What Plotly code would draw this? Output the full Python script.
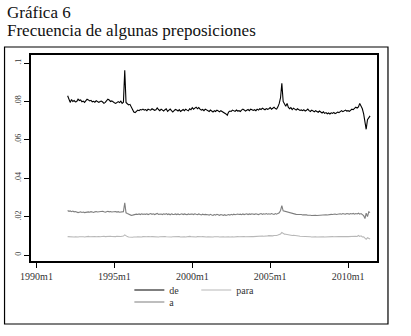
import plotly.graph_objects as go
import pandas as pd

# Monthly series, 1992m1 .. 2011m6
de = [
    0.0830, 0.0805, 0.0795, 0.0810, 0.0800, 0.0805, 0.0798, 0.0800, 0.0812, 0.0805, 0.0808, 0.0798,  # 1992
    0.0802, 0.0795, 0.0805, 0.0812, 0.0808, 0.0803, 0.0806, 0.0798, 0.0801, 0.0796, 0.0804, 0.0800,  # 1993
    0.0795, 0.0800, 0.0802, 0.0797, 0.0790, 0.0795, 0.0805, 0.0812, 0.0808, 0.0800, 0.0803, 0.0797,  # 1994
    0.0793, 0.0790, 0.0796, 0.0799, 0.0794, 0.0802, 0.0790, 0.0796, 0.0962, 0.0795, 0.0788, 0.0782,  # 1995
    0.0785, 0.0770, 0.0755, 0.0745, 0.0742, 0.0748, 0.0755, 0.0752, 0.0758, 0.0756, 0.0760, 0.0755,  # 1996
    0.0758, 0.0752, 0.0760, 0.0757, 0.0755, 0.0762, 0.0758, 0.0754, 0.0757, 0.0766, 0.0758, 0.0752,  # 1997
    0.0760, 0.0755, 0.0750, 0.0757, 0.0762, 0.0748, 0.0755, 0.0760, 0.0752, 0.0745, 0.0752, 0.0758,  # 1998
    0.0755, 0.0750, 0.0757, 0.0748, 0.0753, 0.0758, 0.0752, 0.0760, 0.0755, 0.0751, 0.0762, 0.0757,  # 1999
    0.0768, 0.0760, 0.0765, 0.0770, 0.0762, 0.0768, 0.0760, 0.0755, 0.0758, 0.0752, 0.0760, 0.0755,  # 2000
    0.0752, 0.0748, 0.0755, 0.0750, 0.0745, 0.0752, 0.0748, 0.0755, 0.0750, 0.0746, 0.0752, 0.0748,  # 2001
    0.0745, 0.0740, 0.0735, 0.0728, 0.0745, 0.0750, 0.0748, 0.0755, 0.0752, 0.0748, 0.0755, 0.0750,  # 2002
    0.0752, 0.0748, 0.0755, 0.0760, 0.0756, 0.0750, 0.0754, 0.0758, 0.0752, 0.0760, 0.0757, 0.0753,  # 2003
    0.0757, 0.0752, 0.0760, 0.0755, 0.0762, 0.0758, 0.0765, 0.0760, 0.0757, 0.0763, 0.0759, 0.0762,  # 2004
    0.0768, 0.0760, 0.0765, 0.0770, 0.0763, 0.0760, 0.0772, 0.0790, 0.0820, 0.0895, 0.0800, 0.0790,  # 2005
    0.0775, 0.0790, 0.0770, 0.0762, 0.0768, 0.0758, 0.0765, 0.0760, 0.0755, 0.0762, 0.0757, 0.0753,  # 2006
    0.0756, 0.0752, 0.0757, 0.0750, 0.0754, 0.0760, 0.0752, 0.0748, 0.0755, 0.0750, 0.0746, 0.0752,  # 2007
    0.0748, 0.0744, 0.0750, 0.0745, 0.0740, 0.0746, 0.0738, 0.0742, 0.0736, 0.0740, 0.0735, 0.0741,  # 2008
    0.0738, 0.0743, 0.0737, 0.0740, 0.0745, 0.0742, 0.0748, 0.0752, 0.0747, 0.0750, 0.0755, 0.0750,  # 2009
    0.0752, 0.0748, 0.0755, 0.0760, 0.0757, 0.0762, 0.0770, 0.0766, 0.0772, 0.0790, 0.0775, 0.0762,  # 2010
    0.0735, 0.0700, 0.0655, 0.0705, 0.0715, 0.0725,                                                  # 2011
]

a = [
    0.0232, 0.0228, 0.0230, 0.0226, 0.0229, 0.0225, 0.0227, 0.0224, 0.0221, 0.0223, 0.0225, 0.0222,
    0.0224, 0.0221, 0.0223, 0.0222, 0.0225, 0.0223, 0.0226, 0.0224, 0.0222, 0.0225, 0.0227, 0.0224,
    0.0225, 0.0227, 0.0224, 0.0228, 0.0225, 0.0223, 0.0226, 0.0228, 0.0225, 0.0227, 0.0224, 0.0226,
    0.0225, 0.0227, 0.0224, 0.0226, 0.0223, 0.0225, 0.0224, 0.0226, 0.0272, 0.0220, 0.0216, 0.0212,
    0.0209, 0.0207, 0.0208, 0.0210, 0.0212, 0.0213, 0.0211, 0.0214, 0.0211, 0.0215, 0.0212, 0.0214,
    0.0212, 0.0215, 0.0211, 0.0214, 0.0216, 0.0212, 0.0215, 0.0211, 0.0214, 0.0217, 0.0212, 0.0215,
    0.0214, 0.0211, 0.0215, 0.0212, 0.0216, 0.0211, 0.0214, 0.0210, 0.0215, 0.0212, 0.0211, 0.0214,
    0.0211, 0.0214, 0.0210, 0.0213, 0.0215, 0.0211, 0.0214, 0.0212, 0.0210, 0.0214, 0.0211, 0.0213,
    0.0214, 0.0211, 0.0215, 0.0212, 0.0210, 0.0214, 0.0211, 0.0209, 0.0213, 0.0210, 0.0212, 0.0209,
    0.0210, 0.0208, 0.0212, 0.0209, 0.0207, 0.0211, 0.0208, 0.0212, 0.0209, 0.0207, 0.0211, 0.0208,
    0.0207, 0.0210, 0.0206, 0.0209, 0.0211, 0.0208, 0.0212, 0.0209, 0.0213, 0.0210, 0.0212, 0.0214,
    0.0211, 0.0213, 0.0210, 0.0214, 0.0211, 0.0213, 0.0215, 0.0211, 0.0214, 0.0212, 0.0215, 0.0213,
    0.0212, 0.0215, 0.0213, 0.0211, 0.0214, 0.0216, 0.0212, 0.0215, 0.0213, 0.0216, 0.0213, 0.0215,
    0.0213, 0.0216, 0.0214, 0.0212, 0.0216, 0.0213, 0.0217, 0.0220, 0.0232, 0.0258, 0.0230, 0.0228,
    0.0227, 0.0224, 0.0222, 0.0219, 0.0217, 0.0215, 0.0214, 0.0213, 0.0212, 0.0211, 0.0212, 0.0210,
    0.0211, 0.0209, 0.0210, 0.0208, 0.0209, 0.0207, 0.0208, 0.0207, 0.0206, 0.0207, 0.0206, 0.0207,
    0.0206, 0.0207, 0.0208, 0.0206, 0.0207, 0.0209, 0.0208, 0.0210, 0.0209, 0.0211, 0.0210, 0.0212,
    0.0211, 0.0212, 0.0214, 0.0211, 0.0213, 0.0212, 0.0215, 0.0213, 0.0216, 0.0214, 0.0213, 0.0216,
    0.0214, 0.0213, 0.0216, 0.0214, 0.0217, 0.0213, 0.0216, 0.0214, 0.0218, 0.0213, 0.0216, 0.0210,
    0.0205, 0.0190, 0.0218, 0.0200, 0.0225, 0.0222,
]

para = [
    0.0096, 0.0095, 0.0094, 0.0095, 0.0096, 0.0094, 0.0095, 0.0093, 0.0094, 0.0095, 0.0096, 0.0094,
    0.0095, 0.0094, 0.0096, 0.0095, 0.0097, 0.0095, 0.0096, 0.0094, 0.0095, 0.0096, 0.0095, 0.0097,
    0.0096, 0.0095, 0.0097, 0.0096, 0.0098, 0.0096, 0.0097, 0.0095, 0.0096, 0.0098, 0.0097, 0.0096,
    0.0097, 0.0096, 0.0098, 0.0097, 0.0096, 0.0097, 0.0098, 0.0099, 0.0105, 0.0098, 0.0096, 0.0094,
    0.0093, 0.0092, 0.0093, 0.0094, 0.0093, 0.0094, 0.0095, 0.0094, 0.0095, 0.0094, 0.0096, 0.0095,
    0.0094, 0.0095, 0.0096, 0.0094, 0.0095, 0.0096, 0.0095, 0.0094, 0.0096, 0.0095, 0.0094, 0.0095,
    0.0096, 0.0095, 0.0094, 0.0096, 0.0095, 0.0094, 0.0095, 0.0096, 0.0094, 0.0095, 0.0096, 0.0095,
    0.0094, 0.0095, 0.0096, 0.0094, 0.0095, 0.0096, 0.0095, 0.0094, 0.0096, 0.0095, 0.0097, 0.0096,
    0.0095, 0.0096, 0.0095, 0.0094, 0.0096, 0.0095, 0.0094, 0.0095, 0.0096, 0.0094, 0.0095, 0.0094,
    0.0095, 0.0094, 0.0096, 0.0095, 0.0094, 0.0095, 0.0096, 0.0094, 0.0095, 0.0094, 0.0095, 0.0096,
    0.0095, 0.0094, 0.0095, 0.0096, 0.0095, 0.0094, 0.0096, 0.0095, 0.0094, 0.0096, 0.0095, 0.0096,
    0.0095, 0.0096, 0.0095, 0.0097, 0.0096, 0.0095, 0.0096, 0.0097, 0.0096, 0.0098, 0.0097, 0.0096,
    0.0097, 0.0098, 0.0097, 0.0098, 0.0099, 0.0098, 0.0099, 0.0098, 0.0100, 0.0099, 0.0100, 0.0101,
    0.0100, 0.0101, 0.0100, 0.0102, 0.0101, 0.0102, 0.0104, 0.0106, 0.0110, 0.0118, 0.0112, 0.0109,
    0.0108, 0.0106, 0.0105, 0.0104, 0.0103, 0.0102, 0.0103, 0.0101, 0.0100, 0.0101, 0.0099, 0.0098,
    0.0098, 0.0097, 0.0096, 0.0097, 0.0096, 0.0095, 0.0096, 0.0095, 0.0094, 0.0095, 0.0094, 0.0095,
    0.0094, 0.0095, 0.0094, 0.0093, 0.0094, 0.0095, 0.0094, 0.0095, 0.0096, 0.0095, 0.0096, 0.0095,
    0.0096, 0.0095, 0.0096, 0.0097, 0.0096, 0.0097, 0.0096, 0.0097, 0.0096, 0.0097, 0.0096, 0.0097,
    0.0096, 0.0097, 0.0096, 0.0098, 0.0097, 0.0099, 0.0098, 0.0097, 0.0102, 0.0097, 0.0100, 0.0094,
    0.0095, 0.0088, 0.0082, 0.0090, 0.0085, 0.0083,
]

dates = pd.date_range("1992-01-01", periods=len(de), freq="MS")

x_tickvals = ["1990-01-01", "1995-01-01", "2000-01-01", "2005-01-01", "2010-01-01"]
x_ticktext = ["1990m1", "1995m1", "2000m1", "2005m1", "2010m1"]
y_tickvals = [0, 0.02, 0.04, 0.06, 0.08, 0.1]
y_ticktext = ["0", ".02", ".04", ".06", ".08", ".1"]

SERIF = "Liberation Serif, Times New Roman, serif"

fig = go.Figure()
fig.add_trace(go.Scatter(x=dates, y=de, name="de", mode="lines",
                         line=dict(color="#000000", width=1.1), legend="legend"))
fig.add_trace(go.Scatter(x=dates, y=para, name="para", mode="lines",
                         line=dict(color="#b8b8b8", width=1.1), legend="legend2"))
fig.add_trace(go.Scatter(x=dates, y=a, name="a", mode="lines",
                         line=dict(color="#7f7f7f", width=1.1), legend="legend3"))

# pixel -> paper helpers for layout placement
L, R, T, B = 30.5, 377.0, 55.0, 261.0
def px(xp):
    return (xp - L) / (R - L)
def py(yp):
    return (B - yp) / (B - T)

leg_common = dict(xanchor="left", yanchor="middle", orientation="v",
                  font=dict(size=10, family=SERIF, color="#333"),
                  bgcolor="rgba(0,0,0,0)", itemwidth=30)

fig.update_layout(
    width=411, height=336,
    margin=dict(l=L, r=411 - R, t=T, b=336 - B, pad=0),
    paper_bgcolor="white", plot_bgcolor="white",
    font=dict(family=SERIF, color="#222"),
    showlegend=True,
    legend=dict(x=px(129), y=py(290), **leg_common),
    legend2=dict(x=px(196), y=py(290), **leg_common),
    legend3=dict(x=px(129), y=py(302), **leg_common),
    xaxis=dict(range=["1989-08-25", "2011-11-10"], tickvals=x_tickvals, ticktext=x_ticktext,
               ticks="outside", ticklen=5, tickwidth=1, tickcolor="#000",
               showgrid=False, zeroline=False, showline=True, linecolor="#000",
               linewidth=1.5, mirror=True, tickfont=dict(size=10, family=SERIF, color="#333")),
    yaxis=dict(range=[-0.0031, 0.1042], tickvals=y_tickvals, ticktext=y_ticktext,
               ticks="outside", ticklen=5, tickwidth=1, tickcolor="#000", tickangle=-90,
               showgrid=False, zeroline=False, showline=True, linecolor="#000",
               linewidth=1.5, mirror=True, tickfont=dict(size=8, family=SERIF, color="#333")),
    shapes=[dict(type="rect", xref="paper", yref="paper",
                 x0=px(4), x1=px(388), y0=py(324), y1=py(47),
                 line=dict(color="#000", width=1.2), fillcolor="rgba(0,0,0,0)")],
    annotations=[
        dict(text="Gráfica 6", xref="paper", yref="paper", x=px(4), y=py(1),
             xanchor="left", yanchor="top", showarrow=False,
             font=dict(size=17, family=SERIF, color="#111")),
        dict(text="Frecuencia de algunas preposiciones", xref="paper", yref="paper",
             x=px(4), y=py(19), xanchor="left", yanchor="top", showarrow=False,
             font=dict(size=17, family=SERIF, color="#111")),
    ],
)

fig.write_html("out.html", config={"displayModeBar": False},
               post_script="document.body.style.margin='0';")
